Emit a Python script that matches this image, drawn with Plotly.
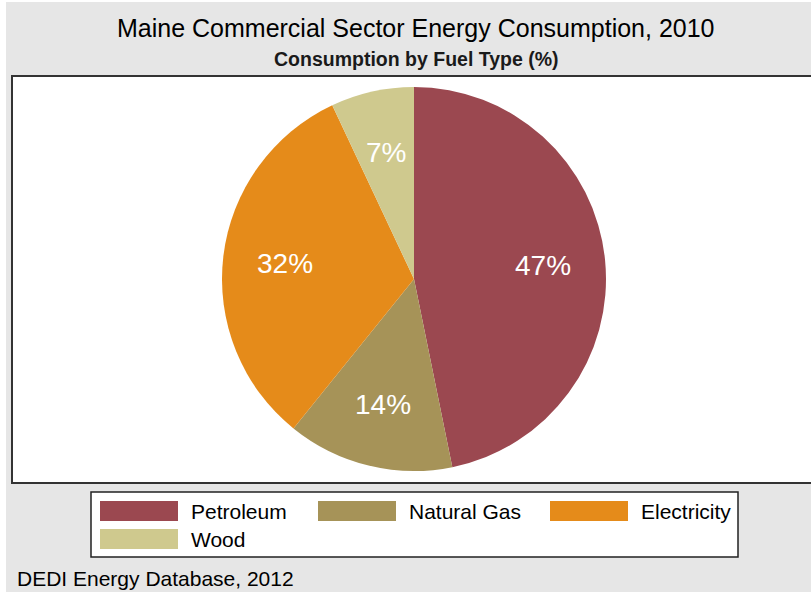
"""
Maine commercial sector energy consumption by fuel type, 2010 (pie)
"""
import math
import plotly.graph_objects as go

# dados
fuels = ["Petroleum", "Natural Gas", "Electricity", "Wood"]
shares = [46.8, 14.0, 32.2, 7.0]
colors = ["#9B4850", "#A69358", "#E58B1A", "#CFC98E"]

title = "Maine Commercial Sector Energy Consumption, 2010"
subtitle = "Consumption by Fuel Type (%)"
footer = "DEDI Energy Database, 2012"

W, H = 811, 592
FONT = "Liberation Sans, Arial, sans-serif"

# geometria da pizza (pixels)
CX, CY, R = 414, 279, 192


def px(x):
    return x / W


def py(y):
    return 1 - y / H


fig = go.Figure()

fig.add_trace(go.Pie(
    labels=fuels,
    values=shares,
    sort=False,
    direction="clockwise",
    rotation=0,
    marker=dict(colors=colors, line=dict(width=0)),
    textinfo="none",
    hoverinfo="label+percent",
    showlegend=False,
    domain=dict(x=[px(CX - R), px(CX + R)], y=[py(CY + R), py(CY - R)]),
))

shapes = [
    # fundo cinza
    dict(type="rect", xref="paper", yref="paper", x0=px(6), x1=1.0, y0=0, y1=py(2),
         fillcolor="#E6E6E6", line=dict(width=0), layer="below"),
    # area branca do grafico
    dict(type="rect", xref="paper", yref="paper", x0=px(12), x1=px(830), y0=py(483), y1=py(76),
         fillcolor="white", line=dict(color="#333333", width=2), layer="below"),
    # caixa da legenda
    dict(type="rect", xref="paper", yref="paper", x0=px(91), x1=px(738), y0=py(557), y1=py(492),
         fillcolor="white", line=dict(color="#222222", width=1.5), layer="below"),
]

annotations = [
    dict(text=title, x=px(416), y=py(28), xref="paper", yref="paper", showarrow=False,
         xanchor="center", yanchor="middle", font=dict(size=25, color="black", family=FONT)),
    dict(text="<b>" + subtitle + "</b>", x=px(416), y=py(59), xref="paper", yref="paper",
         showarrow=False, xanchor="center", yanchor="middle",
         font=dict(size=19.5, color="#1a1a1a", family=FONT)),
    dict(text=footer, x=px(15), y=py(578), xref="paper", yref="paper", showarrow=False,
         xanchor="left", yanchor="middle", font=dict(size=21, color="black", family=FONT)),
]

# rotulos de porcentagem ao longo da bissetriz de cada fatia
total = sum(shares)
acc = 0.0
for v in shares:
    mid = (acc + v / 2) / total * 2 * math.pi
    acc += v
    lx = CX + 0.675 * R * math.sin(mid)
    ly = CY - 0.675 * R * math.cos(mid)
    annotations.append(dict(text=f"{round(v / total * 100)}%", x=px(lx), y=py(ly),
                            xref="paper", yref="paper", showarrow=False,
                            xanchor="center", yanchor="middle",
                            font=dict(size=28, color="white", family=FONT)))

# legenda manual (amostras retangulares grandes)
leg_pos = [(100, 511), (318, 511), (550, 511), (100, 539)]
for name, col, (lx, ly) in zip(fuels, colors, leg_pos):
    shapes.append(dict(type="rect", xref="paper", yref="paper",
                       x0=px(lx), x1=px(lx + 78), y0=py(ly + 10), y1=py(ly - 10),
                       fillcolor=col, line=dict(width=0)))
    annotations.append(dict(text=name, x=px(lx + 89), y=py(ly), xref="paper", yref="paper",
                            showarrow=False, xanchor="left", yanchor="middle",
                            font=dict(size=21, color="black", family=FONT)))

fig.update_layout(
    width=W,
    height=H,
    margin=dict(l=0, r=0, t=0, b=0),
    paper_bgcolor="white",
    plot_bgcolor="white",
    shapes=shapes,
    annotations=annotations,
)

fig.write_html("out.html", config={"displayModeBar": False},
               post_script="document.body.style.margin='0';")
